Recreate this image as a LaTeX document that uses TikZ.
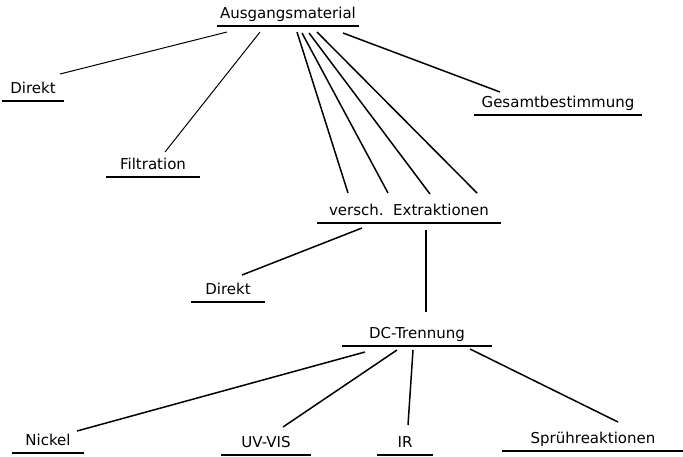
\documentclass[tikz,border=0pt]{standalone}
\usepackage{fontspec}
\setmainfont{DejaVu Sans}

\begin{document}
\begin{tikzpicture}[x=1pt,y=-1pt,line width=1.5pt,draw=black]
    \tikzstyle{term}=[font=\fontsize{15}{18}\selectfont,inner xsep=0pt,inner ysep=0pt,text depth=6.5pt,anchor=south]
    \tikzstyle{underline}=[line width=1.6pt]
    \tikzstyle{thin}=[line width=1pt]

    \useasboundingbox (0,0) rectangle (683,456);

    % Draw the top node and the first level
    \node[term,minimum width=140pt] (ausg) at (288,26) {Ausgangsmaterial};
    \node[term,minimum width=60pt] (dir1) at (33,101) {Direkt};
    \node[term,minimum width=92pt] (filt) at (153,177) {Filtration};
    \node[term,minimum width=167pt] (ges) at (558,115) {Gesamtbestimmung};
    \node[term,minimum width=182pt] (extr) at (409,223) {versch.\ \ Extraktionen};

    % Draw the second level
    \node[term,minimum width=73pt] (dir2) at (228,302) {Direkt};
    \node[term,minimum width=149pt] (dc) at (417,346) {DC-Trennung};

    % Draw the detection methods
    \node[term,minimum width=70pt] (nick) at (48,453) {Nickel};
    \node[term,minimum width=88pt] (uv) at (266,455) {UV-VIS};
    \node[term,minimum width=54pt] (ir) at (405,455) {IR};
    \node[term,minimum width=180pt] (spr) at (593,451) {Sprühreaktionen};

    % Underline every term
    \foreach \name in {ausg,dir1,filt,ges,extr,dir2,dc,nick,uv,ir,spr}
        \draw[underline] (\name.south west) -- (\name.south east);

    % Connect the starting material with the first level
    \path[thin] ([shift={(-61,6)}]ausg.south) edge ([shift={(27,-27)}]dir1.south);
    \path[thin] ([shift={(-28,6)}]ausg.south) edge ([shift={(12,-25)}]filt.south);
    \path ([shift={(9,6)}]ausg.south) edge ([shift={(-61,-30)}]extr.south);
    \path ([shift={(14,7)}]ausg.south) edge ([shift={(-21,-30)}]extr.south);
    \path ([shift={(21,7)}]ausg.south) edge ([shift={(21,-29)}]extr.south);
    \path ([shift={(29,6)}]ausg.south) edge ([shift={(68,-30)}]extr.south);
    \path ([shift={(55,7)}]ausg.south) edge ([shift={(-58,-23)}]ges.south);

    % Connect the extractions
    \path ([shift={(-47,5)}]extr.south) edge ([shift={(14,-27)}]dir2.south);
    \path ([shift={(17,7)}]extr.south) edge ([shift={(9,-34)}]dc.south);

    % Connect the separation with the detection methods
    \path ([shift={(-52,6)}]dc.south) edge ([shift={(29,-22)}]nick.south);
    \path ([shift={(-20,4)}]dc.south) edge ([shift={(17,-28)}]uv.south);
    \path ([shift={(-4,4)}]dc.south) edge ([shift={(3,-30)}]ir.south);
    \path ([shift={(53,3)}]dc.south) edge ([shift={(25,-29)}]spr.south);
\end{tikzpicture}
\end{document}
